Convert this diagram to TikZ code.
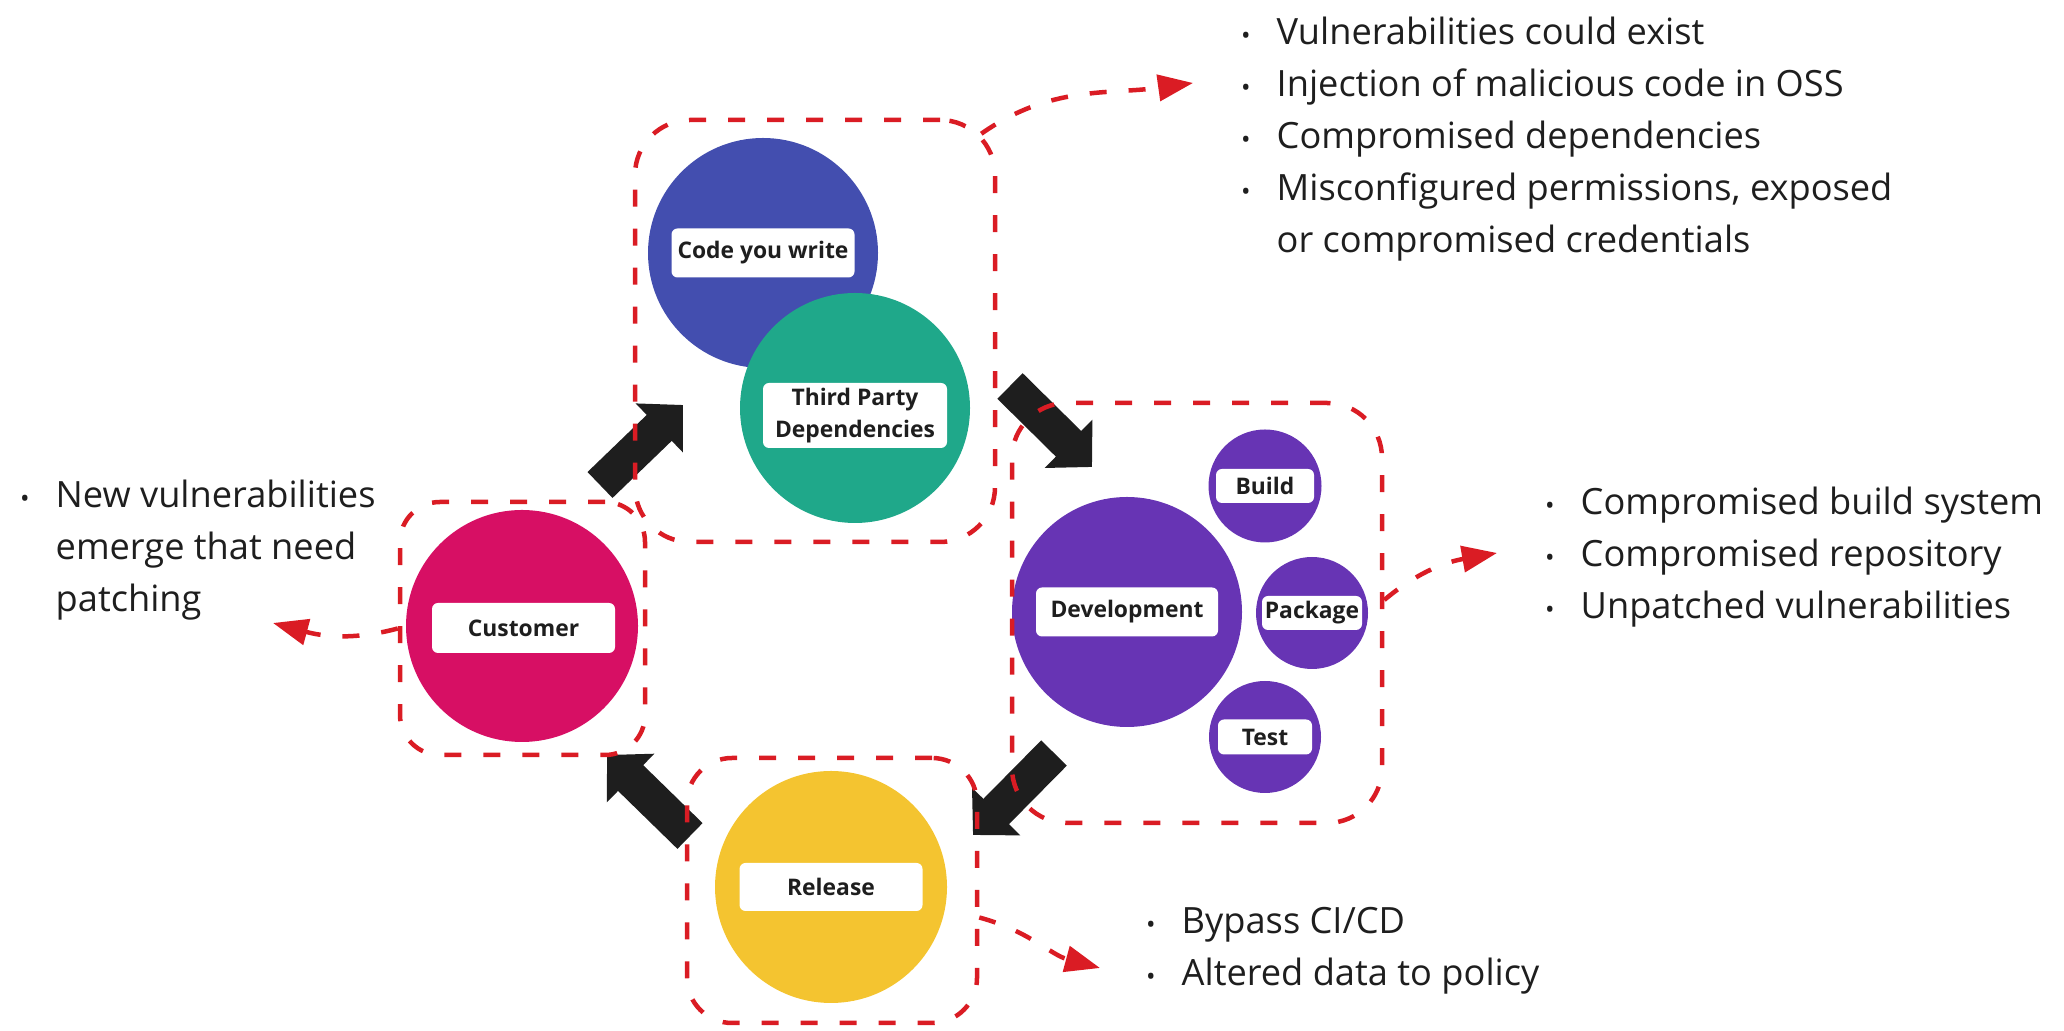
\documentclass[tikz,border=0pt]{standalone}
\usepackage{fontspec}
\setmainfont{Open Sans}
\usetikzlibrary{arrows.meta,calc}

\definecolor{codeblue}{RGB}{67,78,175}
\definecolor{depgreen}{RGB}{31,168,138}
\definecolor{devpurple}{RGB}{103,52,180}
\definecolor{custpink}{RGB}{215,15,100}
\definecolor{relyellow}{RGB}{244,196,48}
\definecolor{riskred}{RGB}{218,28,36}
\definecolor{inkgrey}{RGB}{30,30,30}

\newcommand{\bul}{\makebox[0pt][r]{\scalebox{0.7}{\textbullet}\hspace{0.26cm}}}

\begin{document}
\begin{tikzpicture}[stage/.style={circle,inner sep=0pt},
  tag/.style={fill=white,rounded corners=0.06cm,inner sep=0pt,minimum height=0.49cm,font=\fontsize{6.5}{9}\selectfont\bfseries,text=inkgrey,align=center},
  zone/.style={draw=riskred,line width=0.045cm,dash pattern=on 0.17cm off 0.22cm,rounded corners=0.55cm,inner sep=0pt},
  push/.style={draw=inkgrey,line width=0.36cm,-{Triangle[width=0.66cm,length=0.33cm]}},
  risk/.style={draw=riskred,line width=0.045cm,dash pattern=on 0.17cm off 0.22cm,-{Triangle[width=0.26cm,length=0.35cm]}},
  note/.style={font=\fontsize{10.3}{14.8}\selectfont,text=inkgrey,align=left,inner sep=0pt,anchor=base west}]
\useasboundingbox (0,0) rectangle (20.64,10.31);

\node[stage,fill=codeblue,minimum size=2.30cm] (code) at (7.63,7.78) {};
\node[tag,minimum width=1.83cm] (codetag) at (code) {Code you write};
\node[stage,fill=depgreen,minimum size=2.30cm] (deps) at (8.55,6.23) {};
\node[tag,minimum width=1.84cm,minimum height=0.65cm] (depstag) at (8.55,6.155) {Third Party\\Dependencies};

\node[stage,fill=devpurple,minimum size=2.30cm] (dev) at (11.27,4.19) {};
\node[tag,minimum width=1.82cm] (devtag) at (dev) {Development};
\node[stage,fill=devpurple,minimum size=1.13cm] (build) at (12.65,5.45) {};
\node[tag,minimum width=0.98cm,minimum height=0.34cm] (buildtag) at (build) {Build};
\node[stage,fill=devpurple,minimum size=1.12cm] (package) at (13.12,4.18) {};
\node[tag,minimum width=1.00cm,minimum height=0.34cm] (packagetag) at (package) {Package};
\node[stage,fill=devpurple,minimum size=1.12cm] (test) at (12.65,2.94) {};
\node[tag,minimum width=0.94cm,minimum height=0.35cm] (testtag) at (test) {Test};

\node[stage,fill=custpink,minimum size=2.32cm] (cust) at (5.22,4.05) {};
\node[tag,minimum width=1.83cm,minimum height=0.50cm] (custtag) at (5.235,4.03) {Customer};
\node[stage,fill=relyellow,minimum size=2.32cm] (rel) at (8.31,1.44) {};
\node[tag,minimum width=1.83cm,minimum height=0.48cm] (reltag) at (rel) {Release};

% flow between the stages
\coordinate (a1) at (6.00,5.46); \coordinate (a1e) at (6.83,6.26);
\coordinate (a2) at (10.10,6.45); \coordinate (a2e) at (10.92,5.64);
\coordinate (a3) at (10.54,2.78); \coordinate (a3e) at (9.73,1.96);
\coordinate (a4) at (6.90,1.95); \coordinate (a4e) at (6.07,2.76);
\draw[push] (a1) -- (a1e);
\draw[push] (a2) -- (a2e);
\draw[push] (a3) -- (a3e);
\draw[push] (a4) -- (a4e);

\node[zone,minimum width=3.60cm,minimum height=4.22cm] (codezone) at (8.15,7.00) {};
\node[zone,minimum width=3.70cm,minimum height=4.20cm] (devzone) at (11.97,4.18) {};
\node[zone,rounded corners=0.4cm,minimum width=2.45cm,minimum height=2.53cm] (custzone) at (5.225,4.025) {};
\node[zone,rounded corners=0.45cm,minimum width=2.90cm,minimum height=2.65cm] (relzone) at (8.32,1.405) {};

\node[note] (coderisks) at (12.76,7.78) {\bul Vulnerabilities could exist\\\bul Injection of malicious code in OSS\\\bul Compromised dependencies\\\bul Misconfigured permissions, exposed\\or compromised credentials};
\node[note] (devrisks) at (15.80,4.12) {\bul Compromised build system\\\bul Compromised repository\\\bul Unpatched vulnerabilities};
\node[note] (relrisks) at (11.81,0.45) {\bul Bypass CI/CD\\\bul Altered data to policy};
\node[note] (custrisks) at (0.55,4.19) {\bul New vulnerabilities\\emerge that need\\patching};

\coordinate (codetip) at (11.93,9.48);
\coordinate (devtip) at (14.97,4.78);
\coordinate (reltip) at (11.00,0.63);
\coordinate (custtip) at (2.73,4.08);
\draw[risk] ($(codezone.north east)+(-0.16,-0.16)$) to[out=35,in=188] (codetip);
\draw[risk] ([yshift=0.13cm]devzone.east) to[out=40,in=190] (devtip);
\draw[risk] ([yshift=-0.27cm]relzone.east) to[out=-15,in=165] (reltip);
\draw[risk] (custzone.west) to[out=195,in=-15] (custtip);

\end{tikzpicture}
\end{document}
